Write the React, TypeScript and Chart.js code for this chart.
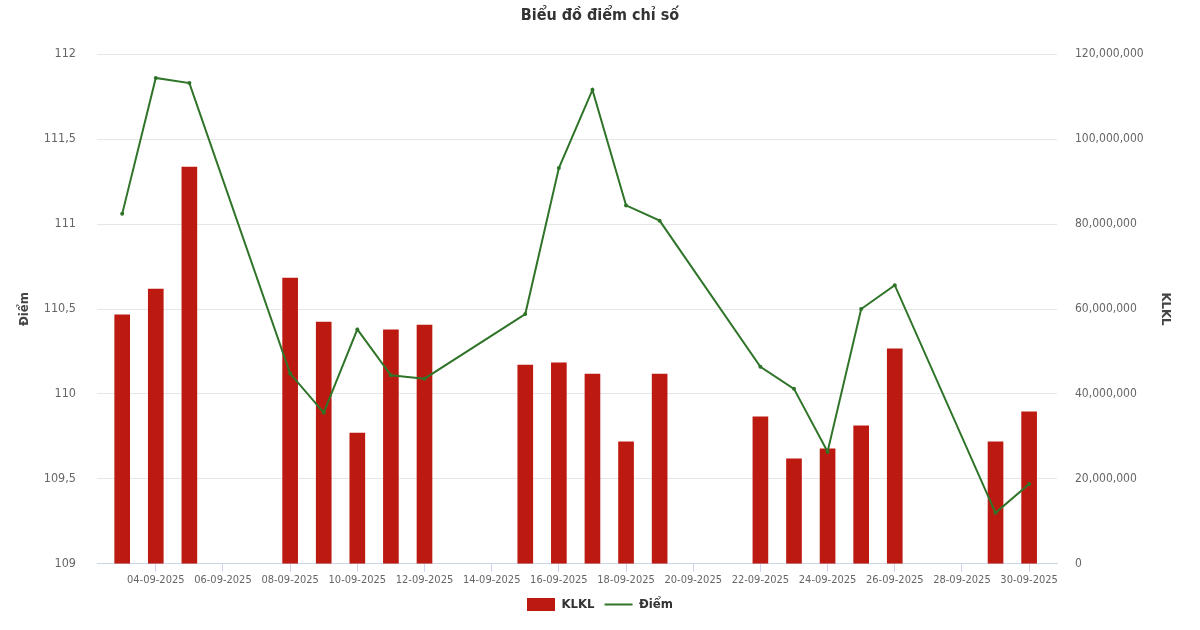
import React, { useEffect, useRef } from "react";
import { Chart, registerables } from "chart.js";

Chart.register(...registerables);

const allDays = [
  "03-09-2025", "04-09-2025", "05-09-2025", "06-09-2025", "07-09-2025",
  "08-09-2025", "09-09-2025", "10-09-2025", "11-09-2025", "12-09-2025",
  "13-09-2025", "14-09-2025", "15-09-2025", "16-09-2025", "17-09-2025",
  "18-09-2025", "19-09-2025", "20-09-2025", "21-09-2025", "22-09-2025",
  "23-09-2025", "24-09-2025", "25-09-2025", "26-09-2025", "27-09-2025",
  "28-09-2025", "29-09-2025", "30-09-2025",
];

const xTickLabels = [
  "04-09-2025", "06-09-2025", "08-09-2025", "10-09-2025", "12-09-2025",
  "14-09-2025", "16-09-2025", "18-09-2025", "20-09-2025", "22-09-2025",
  "24-09-2025", "26-09-2025", "28-09-2025", "30-09-2025",
];

const tradingDays = [
  "03-09-2025", "04-09-2025", "05-09-2025", "08-09-2025", "09-09-2025",
  "10-09-2025", "11-09-2025", "12-09-2025", "15-09-2025", "16-09-2025",
  "17-09-2025", "18-09-2025", "19-09-2025", "22-09-2025", "23-09-2025",
  "24-09-2025", "25-09-2025", "26-09-2025", "29-09-2025", "30-09-2025",
];

const klkl = [
  58600000, 64700000, 93400000, 67300000, 56900000,
  30800000, 55100000, 56200000, 46800000, 47300000,
  44700000, 28700000, 44700000, 34600000, 24700000,
  27100000, 32500000, 50600000, 28700000, 35800000,
];

const diem = [
  111.06, 111.86, 111.83, 110.12, 109.89,
  110.38, 110.11, 110.09, 110.47, 111.33,
  111.79, 111.11, 111.02, 110.16, 110.03,
  109.66, 110.5, 110.64, 109.3, 109.47,
];

const FONT = "'Liberation Sans Narrow', 'DejaVu Sans Condensed', 'Liberation Sans', sans-serif";

export default function App() {
  const ref = useRef<HTMLCanvasElement | null>(null);

  useEffect(() => {
    if (!ref.current) return;
    const barData = tradingDays.map((d, i) => ({ x: allDays.indexOf(d), y: klkl[i] }));
    const lineData = tradingDays.map((d, i) => ({ x: allDays.indexOf(d), y: diem[i] }));

    const chart = new Chart(ref.current, {
      type: "bar",
      data: {
        datasets: [
          {
            type: "bar",
            label: "KLKL",
            data: barData as any,
            yAxisID: "y1",
            backgroundColor: "#bc1a10",
            borderWidth: 0,
            barThickness: 15,
            order: 1,
          },
          {
            type: "line",
            label: "Điểm",
            data: lineData as any,
            yAxisID: "y",
            borderColor: "#2f7428",
            backgroundColor: "#2f7428",
            borderWidth: 2,
            pointRadius: 2,
            pointBackgroundColor: "#2f7428",
            pointBorderWidth: 0,
            tension: 0,
            order: 0,
          } as any,
        ],
      },
      options: {
        animation: false,
        responsive: false,
        maintainAspectRatio: false,
        layout: { padding: { left: 0, right: 0, top: 0, bottom: 9 } },
        plugins: {
          title: {
            display: true,
            text: "Biểu đồ điểm chỉ số",
            color: "#333333",
            font: { family: FONT, size: 16, weight: "bold" },
            padding: { top: 6, bottom: 29 },
          },
          legend: {
            position: "bottom",
            labels: {
              usePointStyle: true,
              pointStyleWidth: 28,
              boxHeight: 14,
              padding: 10,
              color: "#333333",
              font: { family: FONT, size: 13, weight: "bold" },
              generateLabels: (chart: any) => {
                const items = Chart.defaults.plugins.legend.labels.generateLabels(chart);
                return items
                  .map((it: any) => ({
                    ...it,
                    pointStyle: it.datasetIndex === 0 ? "rect" : "line",
                    lineWidth: it.datasetIndex === 0 ? 0 : 2,
                  }))
                  .sort((a: any, b: any) => a.datasetIndex - b.datasetIndex);
              },
            },
          },
          tooltip: { enabled: false },
        },
        scales: {
          x: {
            type: "linear",
            min: -0.75,
            max: 27.83,
            offset: false,
            bounds: "data",
            afterBuildTicks: (s: any) => {
              s.ticks = xTickLabels.map((l) => ({ value: allDays.indexOf(l) }));
            },
            ticks: {
              autoSkip: false,
              maxRotation: 0,
              padding: 1.5,
              color: "#666666",
              font: { family: FONT, size: 11 },
              callback: (v: any) => allDays[v as number] ?? "",
            },
            grid: { drawOnChartArea: false, offset: false, tickLength: 8, color: "#ccd6eb" },
            border: { color: "#ccd6eb" },
          },
          y: {
            position: "left",
            min: 109,
            max: 112,
            ticks: {
              stepSize: 0.5,
              padding: 21,
              color: "#666666",
              font: { family: FONT, size: 12.5 },
              callback: (v: any) => String(v).replace(".", ","),
            },
            grid: { color: "#e6e6e6", drawTicks: false },
            border: { display: false },
            title: {
              display: true,
              text: "Điểm",
              color: "#444444",
              font: { family: FONT, size: 13, weight: "bold" },
              padding: { top: 17, bottom: 0 },
            },
            afterFit: (s: any) => {
              s.width = 97;
            },
          },
          y1: {
            position: "right",
            min: 0,
            max: 120000000,
            ticks: {
              stepSize: 20000000,
              padding: 18,
              color: "#666666",
              font: { family: FONT, size: 12 },
              callback: (v: any) => Number(v).toLocaleString("en-US"),
            },
            grid: { drawOnChartArea: false, drawTicks: false },
            border: { display: false },
            title: {
              display: true,
              text: "KLKL",
              color: "#444444",
              font: { family: FONT, size: 13, weight: "bold" },
              padding: { top: 27, bottom: 0 },
            },
            afterFit: (s: any) => {
              s.width = 143;
            },
          },
        },
      } as any,
    });
    return () => chart.destroy();
  }, []);

  return (
    <div style={{ position: "absolute", left: 0, top: 0, width: 1200, height: 630, background: "#ffffff" }}>
      <canvas ref={ref} width={1200} height={630} style={{ width: 1200, height: 630, display: "block" }} />
    </div>
  );
}
